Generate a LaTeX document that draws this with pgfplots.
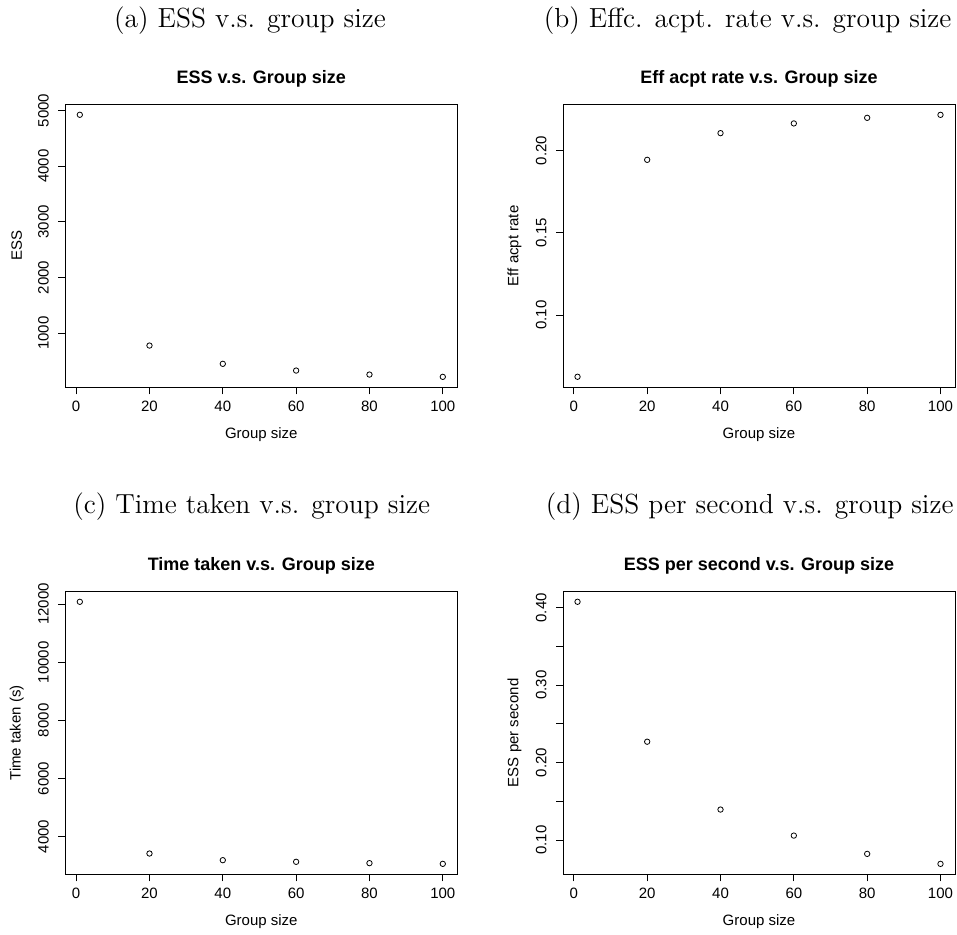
\documentclass[border=0pt]{standalone}
\usepackage{fontspec}
\newfontfamily\arial{Liberation Sans}
\usepackage{pgfplots}
\pgfplotsset{compat=1.18}
\pgfplotsset{
  rstyle/.style={
    scale only axis, width=196pt, height=141.5pt, anchor=north west,
    axis line style={line width=0.5pt},
    xmin=-2.96, xmax=103.96,
    xtick={0,20,40,60,80,100}, xticklabels={0,20,40,60,80,100},
    tick align=outside, xtick pos=bottom, ytick pos=left,
    major tick length=3.5pt,
    tick style={line width=0.5pt, black},
    minor tick num=0, scaled y ticks=false, scaled x ticks=false,
    tick label style={font=\arial\fontsize{7.5}{9}\selectfont},
    yticklabel style={rotate=90, anchor=south},
    yticklabel shift=1.2pt,
    every axis title/.style={font=\arial\bfseries\fontsize{9}{11}\selectfont, at={(axis description cs:0.5,1.0753)}, anchor=base},
    xlabel style={font=\arial\fontsize{7.5}{9}\selectfont, at={(axis description cs:0.5,-0.1686)}, anchor=center},
    ylabel style={font=\arial\fontsize{7.5}{9}\selectfont, at={(axis description cs:-0.124,0.5)}, anchor=center},
    xlabel={Group size},
  },
  rmark/.style={only marks, mark=o, mark size=1.35pt, mark options={line width=0.4pt, black}, black}
}
\begin{document}
\begin{tikzpicture}
\useasboundingbox (0,0) rectangle (478.5pt,-467pt);
\node[font=\fontsize{13.8}{16}\selectfont, anchor=base] at (125pt,-13.5pt) {(a) ESS v.s. group size};
\node[font=\fontsize{13.8}{16}\selectfont, anchor=base] at (373.85pt,-13.5pt) {(b) Effc. acpt. rate v.s. group size};
\node[font=\fontsize{13.8}{16}\selectfont, anchor=base] at (125.85pt,-256.5pt) {(c) Time taken v.s. group size};
\node[font=\fontsize{13.8}{16}\selectfont, anchor=base] at (374.85pt,-256.5pt) {(d) ESS per second v.s. group size};

\begin{axis}[rstyle, at={(32.65pt,-52.15pt)},
  ymin=27, ymax=5111,
  ytick={1000,2000,3000,4000,5000}, yticklabels={1000,2000,3000,4000,5000},
  title={ESS v.s. Group size}, ylabel={ESS}]
\addplot[rmark] coordinates {(1,4923) (20,777) (40,449) (60,328) (80,256) (100,215)};
\end{axis}

\begin{axis}[rstyle, at={(281.5pt,-52.15pt)},
  ymin=0.0562, ymax=0.228,
  ytick={0.10,0.15,0.20}, yticklabels={0.10,0.15,0.20},
  title={Eff acpt rate v.s. Group size}, ylabel={Eff acpt rate}]
\addplot[rmark] coordinates {(1,0.0626) (20,0.1943) (40,0.2105) (60,0.2164) (80,0.2198) (100,0.2216)};
\end{axis}

\begin{axis}[rstyle, at={(32.65pt,-295.65pt)},
  ymin=2699, ymax=12441,
  ytick={4000,6000,8000,10000,12000}, yticklabels={4000,6000,8000,10000,12000},
  title={Time taken v.s. Group size}, ylabel={Time taken (s)}]
\addplot[rmark] coordinates {(1,12080) (20,3415) (40,3186) (60,3130) (80,3084) (100,3060)};
\end{axis}

\begin{axis}[rstyle, at={(281.5pt,-295.65pt)},
  ymin=0.0559, ymax=0.4212,
  ytick={0.10,0.15,0.20,0.25,0.30,0.35,0.40}, yticklabels={0.10,,0.20,,0.30,,0.40},
  title={ESS per second v.s. Group size}, ylabel={ESS per second}]
\addplot[rmark] coordinates {(1,0.4077) (20,0.2271) (40,0.1395) (60,0.1059) (80,0.0823) (100,0.0694)};
\end{axis}
\end{tikzpicture}
\end{document}
